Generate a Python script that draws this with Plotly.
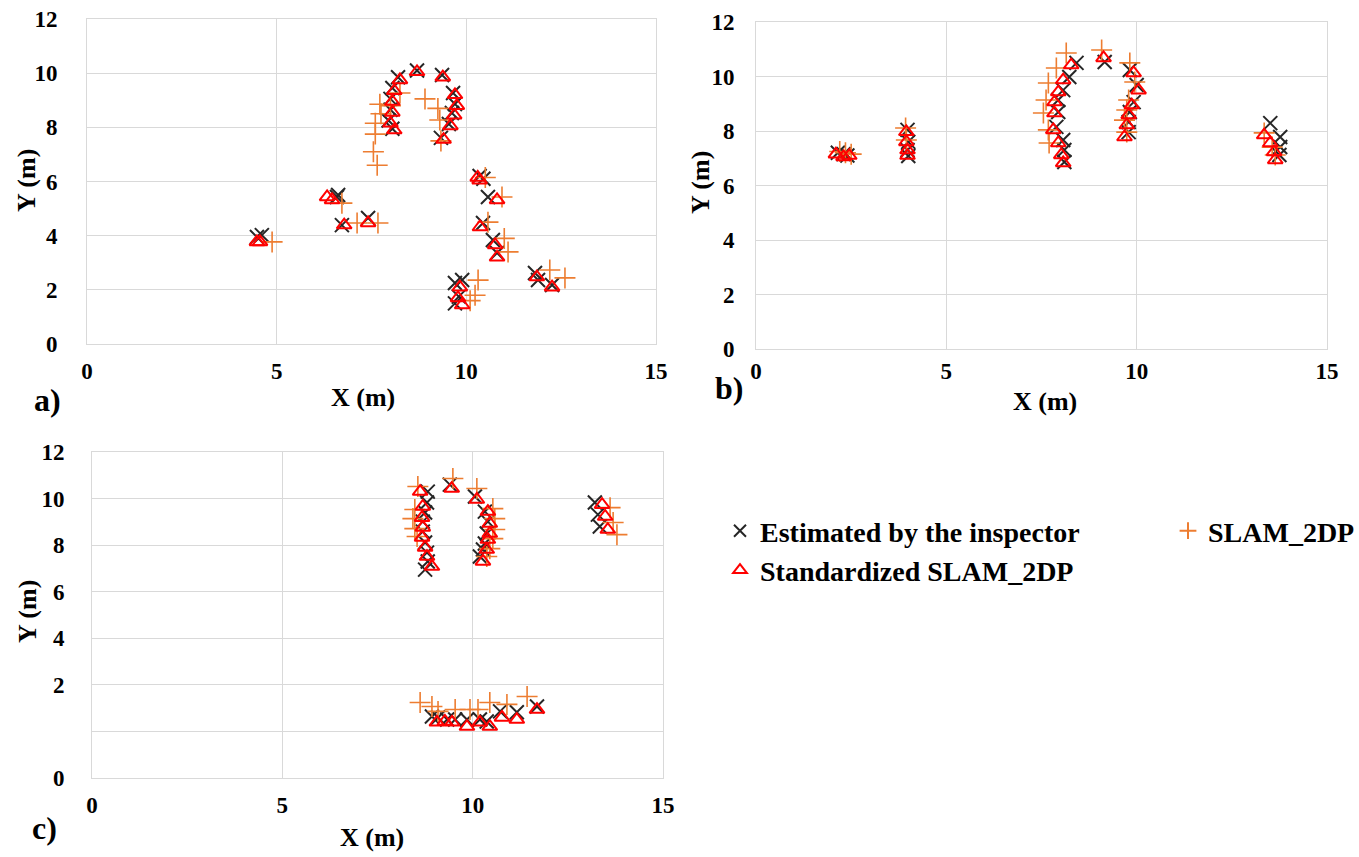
import plotly.graph_objects as go

W, H = 1359, 857

# ---------------- Panel a data ----------------
insp_a_x = [8.70, 8.20, 8.05, 8.00, 8.00, 7.95, 8.05, 9.36, 9.65, 9.70, 9.62, 9.54, 9.33,
            6.59, 6.62, 6.72, 7.41, 4.48, 4.61, 10.35, 10.45, 10.57, 10.44, 10.70, 10.81,
            11.81, 11.89, 12.26, 9.70, 9.89, 9.70, 9.80]
insp_a_y = [10.10, 9.85, 9.45, 9.05, 8.65, 8.25, 7.95, 9.93, 9.27, 8.86, 8.53, 8.12, 7.61,
            5.43, 5.50, 4.39, 4.65, 3.95, 4.02, 6.20, 6.10, 5.43, 4.47, 3.84, 3.36,
            2.62, 2.36, 2.18, 2.25, 2.36, 1.50, 1.75]
std_a_x = [8.70, 8.25, 8.10, 8.05, 8.05, 8.00, 8.10, 9.38, 9.70, 9.75, 9.68, 9.58, 9.40,
           6.33, 6.46, 6.78, 7.41, 4.48, 4.56, 10.30, 10.35, 10.81, 10.36, 10.76, 10.81,
           11.86, 12.26, 9.83, 9.78, 9.89]
std_a_y = [10.05, 9.75, 9.35, 8.95, 8.55, 8.15, 7.90, 9.85, 9.20, 8.80, 8.45, 8.05, 7.55,
           5.43, 5.32, 4.39, 4.47, 3.77, 3.77, 6.15, 6.05, 5.32, 4.32, 3.66, 3.20,
           2.47, 2.10, 2.10, 1.70, 1.44]
slam_a_x = [8.25, 8.00, 7.72, 7.75, 7.60, 7.60, 7.55, 7.65, 8.91, 9.25, 9.30, 9.33,
            6.72, 7.12, 7.67, 4.88, 10.50, 10.94, 10.57, 11.00, 11.10, 12.20, 12.60,
            10.31, 10.23, 10.10]
slam_a_y = [9.27, 8.80, 8.85, 8.50, 8.15, 7.75, 7.10, 6.60, 9.05, 8.70, 8.27, 7.50,
            5.20, 4.47, 4.47, 3.77, 6.15, 5.43, 4.50, 3.90, 3.40, 2.73, 2.44,
            2.36, 1.80, 1.60]

# ---------------- Panel b data ----------------
insp_b_x = [2.15, 2.30, 2.40, 3.98, 4.00, 3.98, 4.00,
            8.42, 8.23, 8.07, 7.94, 7.94, 7.89, 8.07, 8.10, 8.10, 9.16,
            9.82, 10.00, 9.92, 9.82, 9.79, 9.79, 13.51, 13.77, 13.77, 13.75]
insp_b_y = [7.20, 7.15, 7.10, 8.04, 7.60, 7.30, 7.08,
            10.50, 9.98, 9.50, 9.14, 8.70, 8.15, 7.67, 7.30, 6.86, 10.53,
            10.24, 9.69, 9.06, 8.70, 8.33, 7.96, 8.29, 7.78, 7.41, 7.12]
std_b_x = [2.10, 2.30, 2.45, 3.95, 3.95, 3.98, 3.98,
           8.28, 8.07, 7.94, 7.84, 7.84, 7.81, 7.94, 8.02, 8.07, 9.13,
           9.92, 10.05, 9.87, 9.79, 9.74, 9.68, 13.35, 13.51, 13.61, 13.64]
std_b_y = [7.15, 7.05, 7.10, 7.97, 7.60, 7.30, 7.10,
           10.42, 9.87, 9.43, 9.06, 8.66, 8.04, 7.56, 7.12, 6.83, 10.68,
           10.13, 9.50, 8.95, 8.59, 8.22, 7.78, 7.85, 7.56, 7.23, 6.94]
slam_b_x = [2.20, 2.35, 2.50, 3.93, 3.95,
            8.15, 7.89, 7.68, 7.62, 7.55, 7.68, 7.70, 9.08,
            9.82, 9.95, 9.79, 9.74, 9.68, 9.74, 13.35, 13.56, 13.64]
slam_b_y = [7.25, 7.20, 7.15, 8.11, 7.67,
            10.86, 10.31, 9.76, 9.14, 8.66, 8.04, 7.56, 10.97,
            10.50, 9.80, 9.14, 8.77, 8.40, 7.96, 7.93, 7.41, 7.12]

# ---------------- Panel c data ----------------
insp_c_x = [8.82, 8.80, 8.75, 8.69, 8.69, 8.75, 8.80, 8.82, 8.75, 9.40,
            10.06, 10.32, 10.40, 10.37, 10.32, 10.27, 10.19, 13.21, 13.29, 13.34,
            8.93, 9.09, 9.33, 9.54, 9.85, 10.19, 10.37, 10.72, 11.16, 11.69]
insp_c_y = [10.30, 9.83, 9.40, 9.01, 8.58, 8.11, 7.68, 7.30, 6.95, 10.60,
            10.09, 9.44, 9.01, 8.50, 8.07, 7.81, 7.51, 9.83, 9.31, 8.80,
            0.64, 0.60, 0.51, 0.51, 0.51, 0.51, 0.43, 0.86, 0.82, 1.07]
std_c_x = [8.62, 8.69, 8.67, 8.69, 8.67, 8.75, 8.80, 8.93, 9.45,
           10.11, 10.40, 10.45, 10.45, 10.40, 10.37, 10.27, 13.40, 13.48, 13.55,
           9.06, 9.27, 9.46, 9.85, 10.19, 10.45, 10.77, 11.16, 11.69]
std_c_y = [10.30, 9.66, 9.18, 8.76, 8.33, 7.90, 7.51, 7.08, 10.43,
           9.96, 9.44, 8.93, 8.50, 8.24, 7.81, 7.30, 9.74, 9.23, 8.67,
           0.39, 0.43, 0.39, 0.21, 0.39, 0.21, 0.60, 0.51, 0.94]
slam_c_x = [8.56, 8.48, 8.43, 8.48, 8.54, 9.48,
            10.11, 10.53, 10.58, 10.58, 10.53, 10.45, 10.37, 13.61, 13.69, 13.79,
            8.62, 8.93, 9.09, 9.54, 9.93, 10.14, 10.45, 10.90, 11.43]
slam_c_y = [10.52, 9.53, 9.14, 8.71, 8.37, 10.86,
            10.43, 9.57, 9.14, 8.67, 8.28, 7.85, 7.51, 9.61, 8.97, 8.45,
            1.24, 1.07, 0.86, 0.94, 0.94, 0.94, 1.24, 1.16, 1.50]

# axis ticks
x_ticks = [0, 5, 10, 15]
y_ticks_ab = [0, 2, 4, 6, 8, 10, 12]
y_ticks_c = [-2, 0, 2, 4, 6, 8, 10, 12]
y_ticktext_c = ["0", "", "2", "4", "6", "8", "10", "12"]

series_names = ["Estimated by the inspector", "SLAM_2DP", "Standardized SLAM_2DP"]

FONT = "Liberation Serif"
BLACK = "#262626"
RED = "#ff0000"
ORANGE = "#ed7d31"
GRID = "#d9d9d9"

fig = go.Figure()

panels = [
    ("x", "y", insp_a_x, insp_a_y, slam_a_x, slam_a_y, std_a_x, std_a_y, True),
    ("x2", "y2", insp_b_x, insp_b_y, slam_b_x, slam_b_y, std_b_x, std_b_y, False),
    ("x3", "y3", insp_c_x, insp_c_y, slam_c_x, slam_c_y, std_c_x, std_c_y, False),
]
for xa, ya, ix, iy, sx, sy, tx, ty, show in panels:
    fig.add_trace(go.Scatter(
        x=ix, y=iy, mode="markers", xaxis=xa, yaxis=ya, name=series_names[0],
        legendgroup="insp", showlegend=show, legend="legend",
        marker=dict(symbol="x-thin-open", size=14, color=BLACK,
                    line=dict(width=2, color=BLACK))))
    fig.add_trace(go.Scatter(
        x=sx, y=sy, mode="markers", xaxis=xa, yaxis=ya, name=series_names[1],
        legendgroup="slam", showlegend=show, legend="legend2",
        marker=dict(symbol="cross-thin-open", size=15, color=ORANGE,
                    line=dict(width=1.6, color=ORANGE))))
    fig.add_trace(go.Scatter(
        x=tx, y=ty, mode="markers", xaxis=xa, yaxis=ya, name=series_names[2],
        legendgroup="std", showlegend=show, legend="legend",
        marker=dict(symbol="triangle-up-open", size=13, color=RED,
                    line=dict(width=2, color=RED))))

tickfont = dict(family=FONT, size=23, color="black", weight="bold")


def xaxis(domain, anchor, standoff):
    return dict(domain=domain, anchor=anchor, range=[0, 15], tickvals=x_ticks,
                showgrid=True, gridcolor=GRID, gridwidth=1, zeroline=False,
                showline=True, linecolor=GRID, linewidth=1, mirror=True,
                ticks="", tickfont=tickfont, ticklabelstandoff=standoff,
                automargin=False, fixedrange=True)


def yaxis(domain, anchor, rng, vals, text, standoff):
    return dict(domain=domain, anchor=anchor, range=rng, tickvals=vals, ticktext=text,
                showgrid=True, gridcolor=GRID, gridwidth=1, zeroline=False,
                showline=True, linecolor=GRID, linewidth=1, mirror=True,
                ticks="", tickfont=tickfont, ticklabelstandoff=standoff,
                automargin=False, fixedrange=True)


def px_x(a, b):
    return [a / W, b / W]


def px_y(top, bottom):
    return [(H - bottom) / H, (H - top) / H]


fig.update_layout(
    xaxis=xaxis(px_x(87, 656), "y", 6),
    yaxis=yaxis(px_y(19, 344), "x", [0, 12], y_ticks_ab,
                [str(v) for v in y_ticks_ab], 24),
    xaxis2=xaxis(px_x(756, 1327), "y2", 1),
    yaxis2=yaxis(px_y(22, 349), "x2", [0, 12], y_ticks_ab,
                 [str(v) for v in y_ticks_ab], 16),
    xaxis3=xaxis(px_x(92, 663), "y3", 6),
    yaxis3=yaxis(px_y(452, 778), "x3", [-2, 12], y_ticks_c, y_ticktext_c, 22),
)

ann_font = dict(family=FONT, size=26, color="black")
axis_titles = [
    ("X (m)", 363, 397, 0), ("Y (m)", 27, 181, -90),
    ("X (m)", 1045, 401, 0), ("Y (m)", 700, 183, -90),
    ("X (m)", 372, 837, 0), ("Y (m)", 27, 612, -90),
]
annotations = []
for txt, px, py, ang in axis_titles:
    annotations.append(dict(text="<b>%s</b>" % txt, x=px / W, y=(H - py) / H,
                            xref="paper", yref="paper", showarrow=False,
                            textangle=ang, font=ann_font,
                            xanchor="center", yanchor="middle"))
panel_labels = [("a)", 47, 400), ("b)", 729, 388), ("c)", 44, 828)]
for txt, px, py in panel_labels:
    annotations.append(dict(text="<b>%s</b>" % txt, x=px / W, y=(H - py) / H,
                            xref="paper", yref="paper", showarrow=False,
                            font=dict(family=FONT, size=32, color="black"),
                            xanchor="center", yanchor="middle"))

legend_font = dict(family=FONT, size=28, color="black", weight="bold")
fig.update_layout(
    width=W, height=H,
    margin=dict(l=0, r=0, t=0, b=0, autoexpand=False),
    paper_bgcolor="white", plot_bgcolor="white",
    font=dict(family=FONT, color="black"),
    annotations=annotations,
    showlegend=True,
    legend=dict(orientation="v", x=720 / W, y=(H - 506) / H,
                xanchor="left", yanchor="top", font=legend_font,
                bgcolor="rgba(0,0,0,0)", itemsizing="constant", tracegroupgap=0),
    legend2=dict(orientation="v", x=1168 / W, y=(H - 506) / H,
                 xanchor="left", yanchor="top", font=legend_font,
                 bgcolor="rgba(0,0,0,0)", itemsizing="constant", tracegroupgap=0),
)

fig.write_html("out.html",
               config={"displayModeBar": False},
               post_script="document.body.style.margin='0';"
                           "document.body.style.overflow='hidden';")
